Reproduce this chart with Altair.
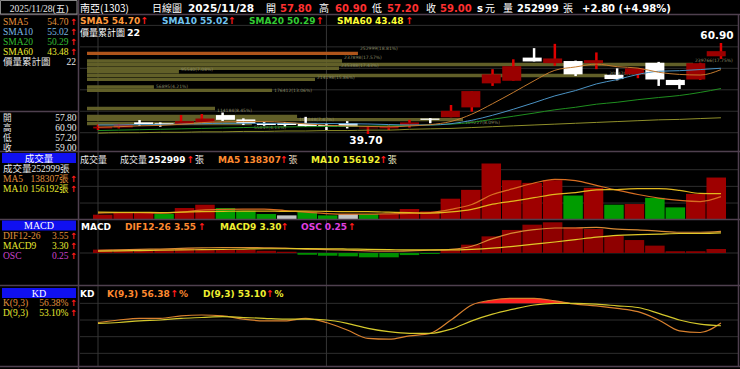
import altair as alt
import pandas as pd

# ---------------- data ----------------
idx = list(range(1, 32))
opens = [41.0, 41.2, 42.4, 42.2, 41.95, 42.4, 44.1, 43.1, 42.2, 42.3, 42.2, 41.8, 42.2, 41.0, 41.0, 41.6,
         43.3, 43.6, 45.9, 51.5, 52.1, 57.5, 56.2, 56.7, 56.2, 53.5, 53.6, 56.3, 52.3, 52.4, 57.8]
highs = [41.9, 42.0, 42.95, 42.4, 44.1, 44.35, 44.7, 43.35, 42.5, 42.5, 43.7, 42.2, 42.7, 41.6, 41.8, 43.0,
         43.4, 46.45, 49.7, 54.8, 57.1, 59.7, 60.7, 56.8, 58.7, 55.0, 55.0, 56.5, 52.4, 56.3, 60.9]
lows = [40.6, 41.0, 41.6, 41.4, 41.8, 42.2, 42.7, 41.8, 41.6, 41.4, 41.4, 40.6, 41.0, 39.7, 40.6, 41.2,
        42.2, 43.6, 44.9, 50.9, 52.1, 56.6, 55.6, 53.2, 54.8, 52.2, 52.7, 50.9, 50.2, 52.3, 57.2]
closes = [41.4, 41.9, 42.0, 41.8, 42.7, 43.3, 43.0, 42.2, 41.8, 41.8, 41.5, 41.4, 41.4, 41.2, 41.4, 42.4,
          43.0, 45.1, 49.7, 53.6, 55.5, 56.6, 57.3, 53.6, 56.9, 52.5, 55.0, 52.4, 51.1, 56.2, 59.0]
sma5 = [41.3, 41.4, 41.6, 41.7, 41.96, 42.34, 42.56, 42.6, 42.6, 42.42, 42.06, 41.74, 41.58, 41.46, 41.38, 41.56,
        41.88, 42.62, 44.32, 46.76, 49.38, 52.1, 54.54, 55.32, 55.98, 55.38, 55.06, 54.08, 53.58, 53.44, 54.70]
sma10 = [41.8, 41.8, 41.9, 41.9, 42.0, 42.1, 42.2, 42.2, 42.2, 42.19, 42.2, 42.15, 42.09, 42.03, 41.9, 41.81,
         41.81, 42.1, 42.89, 44.07, 45.47, 46.99, 48.58, 49.82, 51.37, 52.38, 53.58, 54.31, 54.45, 54.71, 55.02]
sma20 = [40.5, 40.6, 40.7, 40.8, 40.9, 41.0, 41.1, 41.2, 41.3, 41.35, 41.4, 41.45, 41.5, 41.55, 41.6, 41.7,
         41.8, 42.0, 42.4, 43.13, 43.84, 44.57, 45.34, 45.93, 46.64, 47.1, 47.7, 48.2, 48.67, 49.39, 50.29]
sma60 = [39.9, 40.0, 40.0, 40.1, 40.1, 40.2, 40.2, 40.3, 40.3, 40.4, 40.4, 40.5, 40.5, 40.6, 40.6, 40.8,
         40.9, 41.0, 41.2, 41.4, 41.6, 41.8, 42.0, 42.2, 42.4, 42.6, 42.8, 43.0, 43.1, 43.3, 43.48]
volume = [30000, 46000, 46000, 34000, 70000, 90000, 70000, 54000, 34000, 26000, 46000, 26000, 34000, 34000,
          34000, 64000, 50000, 126000, 179000, 337000, 237000, 221000, 237000, 145000, 191000, 90000, 94000,
          131000, 74000, 155000, 252999]
vol_dir = ["up", "up", "up", "down", "up", "up", "down", "down", "down", "flat", "down", "down", "flat", "down",
           "up", "up", "up", "up", "up", "up", "up", "up", "up", "down", "up", "down", "up", "down", "down",
           "up", "up"]
vol_ma5 = [40000, 42000, 42000, 40000, 45000, 57000, 62000, 64000, 64000, 55000, 46000, 37000, 33000, 33000,
           35000, 38000, 43000, 62000, 91000, 151000, 186000, 220000, 242000, 235000, 206000, 177000, 151000,
           130000, 116000, 109000, 138307]
vol_ma10 = [45000, 44000, 44000, 43000, 45000, 48000, 50000, 52000, 52000, 50000, 52000, 50000, 48000, 48000,
            45000, 42000, 40000, 47000, 62000, 93000, 112000, 132000, 152000, 163000, 179000, 181000, 186000,
            186000, 176000, 158000, 156192]
dif = [0.45, 0.5, 0.6, 0.65, 0.75, 0.85, 0.9, 0.9, 0.85, 0.8, 0.65, 0.55, 0.45, 0.35, 0.3, 0.35,
       0.45, 0.6, 1.1, 2.35, 3.3, 3.83, 4.1, 4.1, 4.2, 3.9, 3.8, 3.6, 3.4, 3.4, 3.55]
macd9 = [0.3, 0.35, 0.4, 0.45, 0.5, 0.55, 0.6, 0.65, 0.7, 0.7, 0.72, 0.7, 0.65, 0.6, 0.55, 0.5,
         0.5, 0.5, 0.6, 0.8, 1.1, 1.45, 1.8, 2.2, 2.6, 2.9, 3.0, 3.1, 3.2, 3.2, 3.30]
osc = [0.21, 0.21, 0.21, 0.25, 0.29, 0.25, 0.25, 0.21, 0.14, 0.08, -0.11, -0.17, -0.21, -0.27, -0.27, -0.13,
       -0.06, 0.25, 0.52, 1.04, 1.44, 1.77, 1.92, 1.61, 1.5, 1.08, 0.81, 0.46, 0.11, 0.11, 0.25]
k_val = [57, 60, 62, 62, 65, 66, 65, 61, 59, 59, 62, 57, 48, 38, 37, 41,
         44, 60, 78, 84, 86, 86, 83, 79, 77, 74, 70, 60, 47, 45, 56.38]
d_val = [56, 57, 59, 60, 62, 63, 64, 63, 62, 61, 61, 60, 56, 50, 46, 44,
         44, 49, 59, 67, 73, 78, 80, 80, 79, 77, 75, 68, 60, 55, 53.10]

# price-volume accumulation bands (價量累計圖)
pv_price = [59.5, 57.5, 56.6, 55.6, 54.7, 53.7, 52.7, 50.7, 49.8, 45.05, 43.0, 42.15, 41.1]
pv_vol = [107300, 101000, 240000, 99800, 36400, 206000, 90300, 26500, 73300, 50700, 83200, 148900, 65300]
pv_kind = ["cur", "acc", "acc", "acc", "acc", "acc", "acc", "acc", "acc", "acc", "acc", "acc", "acc"]
pv_label = ["252999(18.81%)", "237898(17.57%)", "239766(17.75%)", "235388(17.43%)", "95540(7.08%)",
            "208470(15.43%)", "214198(15.86%)", "56895(4.21%)", "176412(13.06%)", "114184(8.45%)",
            "100848(7.47%)", "109227(8.09%)", "55849(4.13%)"]

price_grid = [40, 45, 50, 55, 60, 65]
vol_grid = [100000, 200000, 300000]
kd_grid = [20, 40, 60, 80]
macd_grid = [0]
vlines = [1, 12]

df = pd.DataFrame(dict(i=idx, open=opens, high=highs, low=lows, close=closes, sma5=sma5, sma10=sma10,
                       sma20=sma20, sma60=sma60, vol=volume, vdir=vol_dir, vma5=vol_ma5, vma10=vol_ma10,
                       dif=dif, macd9=macd9, osc=osc, k=k_val, d=d_val))
pv = pd.DataFrame(dict(p=pv_price, v=pv_vol, kind=pv_kind, lab=pv_label))
hi_row = df[df["high"] == df["high"].max()].assign(lab=lambda t: t["high"].map(lambda v: f"{v:.2f}"))
lo_row = df[df["low"] == df["low"].min()].assign(lab=lambda t: t["low"].map(lambda v: f"{v:.2f}"))

# ---------------- styles ----------------
SANS = "DejaVu Sans, Noto Sans CJK TC"
CJK = "Noto Sans CJK TC, DejaVu Sans"
SERIF = "Liberation Serif, DejaVu Serif, Noto Sans CJK TC"
RED_UP = "#9a0000"
WICK_RED = "#e00000"
ARROW = "#ff1a1a"
SEP = "#4f404f"
GRID = "#2e2e2e"
ORANGE = "#ff9a3c"
BLUE = "#72c4f0"
GREEN = "#33cc33"
YELLOW = "#ffff33"
MAG = "#e040e0"
LBL = 9  # bold label size

# approximate advance widths (em) of DejaVu Sans Bold, used to place the red arrows after labels
ADV = {c: 0.696 for c in "0123456789"}
ADV.update({".": 0.381, " ": 0.348, "(": 0.457, ")": 0.457, ",": 0.381, "-": 0.415, "%": 1.002,
            "+": 0.838, "S": 0.722, "M": 0.995, "A": 0.774, "C": 0.734, "D": 0.830, "I": 0.372,
            "F": 0.683, "O": 0.850, "K": 0.776})


def width(s, size):
    return sum(ADV.get(c, 0.7) for c in s) * size


xs = alt.Scale(domain=[0.133, 31.82], range=[80, 738], nice=False, zero=False)
py = alt.Scale(domain=[39.7, 60.9], range=[134, 43], nice=False, zero=False)
vy = alt.Scale(domain=[0, 300000], range=[219.7, 169.7], nice=False, zero=False)
my = alt.Scale(domain=[-5, 5], range=[283.5, 222.5], nice=False, zero=False)
oy = alt.Scale(domain=[-2, 2], range=[285, 221], nice=False, zero=False)
ky = alt.Scale(domain=[0, 100], range=[370, 286.67], nice=False, zero=False)
hx = alt.Scale(domain=[0, 240000], range=[87, 693], nice=False, zero=False)

ONE = pd.DataFrame({"z": [0]})
X = lambda f: alt.X(f, scale=xs, axis=None)

L = []


def T(x, y, s, color, size=LBL, bold=True, font=SANS, align="left"):
    return alt.Chart(ONE).mark_text(text=s, color=color, fontSize=size, font=font,
                                    fontWeight="bold" if bold else "normal", align=align,
                                    baseline="alphabetic").encode(x=alt.value(x), y=alt.value(y))


def LABEL(x, y, s, color, ref_arrow, unit=None, unit_color=None):
    """bold label followed by a red arrow (and optional unit)."""
    out = [T(x, y, s, color)]
    ax = max(ref_arrow, x + width(s, LBL) + 3.2)
    out.append(T(ax, y, "↑", ARROW, size=9.5, align="center"))
    if unit:
        cjk = unit == "張"
        out.append(T(ax + 4.5, y, unit, unit_color or color, size=9 if cjk else LBL, bold=not cjk,
                     font=CJK if cjk else SANS))
    return out


def HR(x1, x2, y, color=SEP, w=1.5):
    return alt.Chart(ONE).mark_rule(color=color, strokeWidth=w).encode(
        x=alt.value(x1), x2=alt.value(x2), y=alt.value(y))


def VR(x, y1, y2, color=SEP, w=1.5):
    return alt.Chart(ONE).mark_rule(color=color, strokeWidth=w).encode(
        x=alt.value(x), y=alt.value(y1), y2=alt.value(y2))


def BOX(x1, x2, y1, y2, fill, stroke=None):
    kw = dict(fill=fill)
    if stroke:
        kw.update(stroke=stroke, strokeWidth=1)
    return alt.Chart(ONE).mark_rect(**kw).encode(
        x=alt.value(x1), x2=alt.value(x2), y=alt.value(y1), y2=alt.value(y2))


def grid(vals, scale, x1=80, x2=738):
    return alt.Chart(pd.DataFrame({"g": vals})).mark_rule(color=GRID, strokeWidth=1).encode(
        y=alt.Y("g:Q", scale=scale, axis=None), x=alt.value(x1), x2=alt.value(x2))


# ---------- grids ----------
L += [grid(price_grid, py), grid(vol_grid, vy), grid(kd_grid, ky), grid(macd_grid, my)]
L.append(alt.Chart(pd.DataFrame({"vx": vlines})).mark_rule(color="#363636", strokeWidth=1).encode(
    x=X("vx:Q"), y=alt.value(15), y2=alt.value(366)))

# ---------- price-volume bands ----------
L.append(alt.Chart(pv).mark_bar(orient="horizontal", size=3.4, opacity=0.95).encode(
    x=alt.X("v:Q", scale=hx, axis=None), y=alt.Y("p:Q", scale=py, axis=None),
    color=alt.Color("kind:N", scale=alt.Scale(domain=["cur", "acc"], range=["#b85a1c", "#66642a"]),
                    legend=None)))
L.append(alt.Chart(pv).mark_text(align="left", baseline="middle", fontSize=4.5, dx=2, color="#8a8a66",
                                 font="DejaVu Sans").encode(
    x=alt.X("v:Q", scale=hx, axis=None), y=alt.Y("p:Q", scale=py, axis=None), text="lab:N"))

# ---------- candles ----------
cond_wick = alt.condition("datum.close >= datum.open", alt.value(WICK_RED), alt.value("#ffffff"))
cond_body = alt.condition("datum.close >= datum.open", alt.value(RED_UP), alt.value("#ffffff"))
L.append(alt.Chart(df).mark_rule(strokeWidth=2.5).encode(
    x=X("i:Q"), y=alt.Y("low:Q", scale=py, axis=None), y2="high:Q", color=cond_wick))
L.append(alt.Chart(df).mark_bar(size=19).encode(
    x=X("i:Q"), y=alt.Y("open:Q", scale=py, axis=None), y2="close:Q", color=cond_body))

# ---------- moving averages ----------
for col, c in [("sma60", "#8f8f2a"), ("sma20", "#1f8f1f"), ("sma10", "#4b93c4"), ("sma5", "#c47a2e")]:
    L.append(alt.Chart(df).mark_line(color=c, strokeWidth=1, interpolate="monotone").encode(
        x=X("i:Q"), y=alt.Y(f"{col}:Q", scale=py, axis=None)))

L.append(alt.Chart(hi_row).mark_text(color="white", fontSize=10.5, fontWeight="bold", font=SANS,
                                     baseline="bottom", dy=-2, dx=-4).encode(
    x=X("i:Q"), y=alt.Y("high:Q", scale=py, axis=None), text="lab:N"))
L.append(alt.Chart(lo_row).mark_text(color="white", fontSize=10.5, fontWeight="bold", font=SANS,
                                     baseline="top", dy=2, dx=-2).encode(
    x=X("i:Q"), y=alt.Y("low:Q", scale=py, axis=None), text="lab:N"))

# ---------- volume ----------
L.append(alt.Chart(df).mark_bar(size=19.5).encode(
    x=X("i:Q"), y=alt.Y("vol:Q", scale=vy, axis=None),
    color=alt.Color("vdir:N", scale=alt.Scale(domain=["up", "down", "flat"],
                                              range=["#9e0000", "#009c00", "#c4c4c4"]), legend=None)))
L.append(alt.Chart(df).mark_line(color="#d86e22", strokeWidth=1.2, interpolate="monotone").encode(
    x=X("i:Q"), y=alt.Y("vma5:Q", scale=vy, axis=None)))
L.append(alt.Chart(df).mark_line(color="#e2b81e", strokeWidth=1.2, interpolate="monotone").encode(
    x=X("i:Q"), y=alt.Y("vma10:Q", scale=vy, axis=None)))

# ---------- MACD ----------
L.append(alt.Chart(df).mark_bar(size=19.5).encode(
    x=X("i:Q"), y=alt.Y("osc:Q", scale=oy, axis=None), y2=alt.datum(0),
    color=alt.condition("datum.osc >= 0", alt.value("#8e0000"), alt.value("#009000"))))
L.append(alt.Chart(df).mark_line(color="#d88a34", strokeWidth=1.2, interpolate="monotone").encode(
    x=X("i:Q"), y=alt.Y("dif:Q", scale=my, axis=None)))
L.append(alt.Chart(df).mark_line(color="#e0c828", strokeWidth=1.2, interpolate="monotone").encode(
    x=X("i:Q"), y=alt.Y("macd9:Q", scale=my, axis=None)))

# ---------- KD ----------
L.append(alt.Chart(df).transform_calculate(top="max(datum.k, 80)", base="80").mark_area(
    color="#ff2020", interpolate="monotone").encode(
    x=X("i:Q"), y=alt.Y("top:Q", scale=ky, axis=None), y2="base:Q"))
L.append(alt.Chart(df).mark_line(color="#d8802e", strokeWidth=1.2, interpolate="monotone").encode(
    x=X("i:Q"), y=alt.Y("k:Q", scale=ky, axis=None)))
L.append(alt.Chart(df).mark_line(color="#d4c82c", strokeWidth=1.2, interpolate="monotone").encode(
    x=X("i:Q"), y=alt.Y("d:Q", scale=ky, axis=None)))

# ---------- frames / separators ----------
for y in [14.5, 151.5, 219.5, 285.5, 366.5]:
    L.append(HR(0, 740, y))
L.append(HR(0, 78, 111.5))
L.append(VR(78.5, 0, 369))
L.append(VR(738.5, 14, 367))
L.append(BOX(0.5, 77, 0.5, 14, "#000000", "#8a8a8a"))

# blue boxes in left column
L.append(BOX(2, 76, 153, 163, "#1010f0"))
L.append(BOX(2, 76, 220.5, 230.5, "#1010f0"))
L.append(BOX(2, 76, 288, 298, "#1010f0"))

# ---------- header ----------
L.append(T(39, 11.5, "2025/11/28(五)", "#e8e8e8", size=9.5, bold=False, font=SERIF, align="center"))
L.append(T(80, 11.5, "南亞(1303)", "white", size=10, bold=False, font=CJK))
L.append(T(152, 11.5, "日線圖", "white", size=10, bold=False, font=CJK))
L.append(T(188, 11.5, "2025/11/28", "white", size=10.5))
hdr = [(266, "開", 280, "57.80"), (319, "高", 335, "60.90"), (372, "低", 387, "57.20"), (426, "收", 440, "59.00")]
for xa, a, xb, b in hdr:
    L.append(T(xa, 11.5, a, "white", size=10, bold=False, font=CJK))
    L.append(T(xb, 11.5, b, "#ff3030", size=10))
L.append(T(477, 11.5, "s", "white", size=10))
L.append(T(485, 11.5, "元", "white", size=10, bold=False, font=CJK))
L.append(T(503, 11.5, "量", "white", size=10, bold=False, font=CJK))
L.append(T(517, 11.5, "252999", "white", size=10))
L.append(T(563, 11.5, "張", "white", size=10, bold=False, font=CJK))
L.append(T(582, 11.5, "+2.80 (+4.98%)", "white", size=10))

# SMA row
for x, s, c, ax in [(80, "SMA5 54.70", ORANGE, 144.5), (162, "SMA10 55.02", BLUE, 232),
                    (249, "SMA20 50.29", GREEN, 320), (337, "SMA60 43.48", YELLOW, 409.5)]:
    L += LABEL(x, 23.5, s, c, ax)
L.append(T(80, 36, "價量累計圖", "white", size=9, bold=False, font=CJK))
L.append(T(127, 36, "22", "white", size=9.5))

# volume row
L.append(T(80, 163, "成交量", "#e8e8e8", size=9, bold=False, font=CJK))
L.append(T(120, 163, "成交量", "#e8e8e8", size=9, bold=False, font=CJK))
L += LABEL(148, 163, "252999", "white", 190.5, "張", "#e8e8e8")
L += LABEL(218, 163, "MA5 138307", "#ff8a30", 284, "張", "#e8d8c0")
L += LABEL(311, 163, "MA10 156192", "#f0f030", 380, "張", "#e8e8c0")

# MACD row
L.append(T(81, 230, "MACD", "white"))
L += LABEL(125, 230, "DIF12-26 3.55", "#ff8a30", 202)
L += LABEL(220, 230, "MACD9 3.30", "#f0f030", 283.5)
L += LABEL(301, 230, "OSC 0.25", MAG, 352)

# KD row
L.append(T(80, 297, "KD", "white"))
L += LABEL(107, 297, "K(9,3) 56.38", "#ff8a30", 174.5, "%")
L += LABEL(203, 297, "D(9,3) 53.10", "#f0f030", 270, "%")

# ---------- left column ----------
LO = "#e0903c"
LB = "#7ab8e0"
LG = "#33bb33"
LY = "#e8e830"
LS = 9.5
for y, a, b, c in [(24.5, "SMA5", "54.70", LO), (34.5, "SMA10", "55.02", LB),
                   (44.5, "SMA20", "50.29", LG), (54.5, "SMA60", "43.48", LY)]:
    L.append(T(3, y, a, c, size=LS, bold=False, font=SERIF))
    L.append(T(68.5, y, b, c, size=LS, bold=False, font=SERIF, align="right"))
    L.append(T(73.5, y, "↑", ARROW, size=8.5, align="center"))
L.append(T(3, 64.5, "價量累計圖", "#e8e8e8", size=9.5, bold=False, font=SERIF))
L.append(T(76, 64.5, "22", "#e8e8e8", size=LS, bold=False, font=SERIF, align="right"))
for y, a, b in [(121, "開", "57.80"), (131, "高", "60.90"), (141, "低", "57.20"), (150.5, "收", "59.00")]:
    L.append(T(3, y, a, "#e8e8e8", size=8.6, bold=False, font=SERIF))
    L.append(T(76.5, y, b, "#e8e8e8", size=LS, bold=False, font=SERIF, align="right"))

L.append(T(39, 161.5, "成交量", "white", size=9.5, bold=False, font=SERIF, align="center"))
L.append(T(3, 171.5, "成交量252999張", "#e8e8e8", size=LS, bold=False, font=SERIF))
L.append(T(3, 181.5, "MA5", LO, size=LS, bold=False, font=SERIF))
L.append(T(68.5, 181.5, "138307張", LO, size=LS, bold=False, font=SERIF, align="right"))
L.append(T(73.5, 181.5, "↑", ARROW, size=8.5, align="center"))
L.append(T(3, 191.5, "MA10", LY, size=LS, bold=False, font=SERIF))
L.append(T(68.5, 191.5, "156192張", LY, size=LS, bold=False, font=SERIF, align="right"))
L.append(T(73.5, 191.5, "↑", ARROW, size=8.5, align="center"))

L.append(T(39, 229, "MACD", "white", size=10, bold=False, font=SERIF, align="center"))
for y, a, b, c in [(238.5, "DIF12-26", "3.55", LO), (248.5, "MACD9", "3.30", LY), (258.5, "OSC", "0.25", "#cc44cc")]:
    L.append(T(3, y, a, c, size=LS, bold=False, font=SERIF))
    L.append(T(68.5, y, b, c, size=LS, bold=False, font=SERIF, align="right"))
    L.append(T(73.5, y, "↑", ARROW, size=8.5, align="center"))

L.append(T(39, 296.5, "KD", "white", size=10, bold=False, font=SERIF, align="center"))
for y, a, b, c in [(306, "K(9,3)", "56.38%", LO), (316, "D(9,3)", "53.10%", LY)]:
    L.append(T(3, y, a, c, size=LS, bold=False, font=SERIF))
    L.append(T(68.5, y, b, c, size=LS, bold=False, font=SERIF, align="right"))
    L.append(T(73.5, y, "↑", ARROW, size=8.5, align="center"))

chart = alt.layer(*L).resolve_scale(x="independent", y="independent", color="independent").properties(
    width=740, height=369, background="#000000", padding=0, autosize=alt.AutoSizeParams(type="none")
).configure_view(strokeWidth=0)

chart.save("out.html", embed_options={"renderer": "svg", "actions": False})
